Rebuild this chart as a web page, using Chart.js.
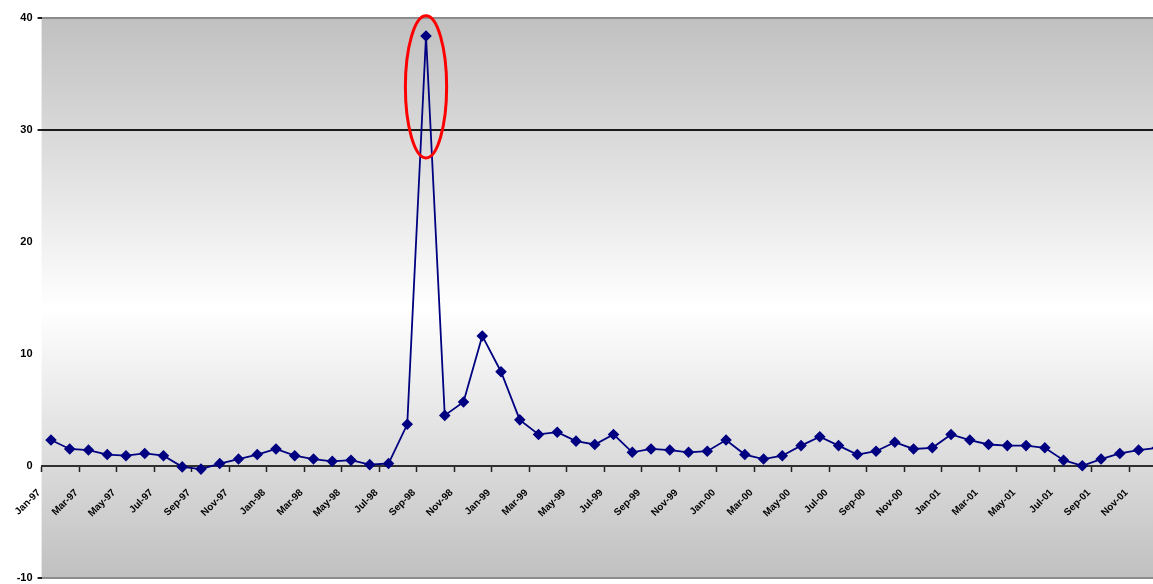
<!DOCTYPE html>
<html>
<head>
<meta charset="utf-8">
<script src="https://cdn.jsdelivr.net/npm/chart.js@4/dist/chart.umd.min.js"></script>
<style>
  html, body { margin: 0; padding: 0; background: #ffffff; overflow: hidden; }
  #wrap { width: 1173px; height: 584px; position: relative; }
</style>
</head>
<body>
<div id="wrap"><canvas id="chart"></canvas></div>
<script>
// Monthly categories, Jan 1997 - Dec 2001
const months = [
  'Jan-97','Feb-97','Mar-97','Apr-97','May-97','Jun-97','Jul-97','Aug-97','Sep-97','Oct-97','Nov-97','Dec-97',
  'Jan-98','Feb-98','Mar-98','Apr-98','May-98','Jun-98','Jul-98','Aug-98','Sep-98','Oct-98','Nov-98','Dec-98',
  'Jan-99','Feb-99','Mar-99','Apr-99','May-99','Jun-99','Jul-99','Aug-99','Sep-99','Oct-99','Nov-99','Dec-99',
  'Jan-00','Feb-00','Mar-00','Apr-00','May-00','Jun-00','Jul-00','Aug-00','Sep-00','Oct-00','Nov-00','Dec-00',
  'Jan-01','Feb-01','Mar-01','Apr-01','May-01','Jun-01','Jul-01','Aug-01','Sep-01','Oct-01','Nov-01','Dec-01'
];

// Monthly change, %
const values = [
  2.3, 1.5, 1.4, 1.0, 0.9, 1.1, 0.9, -0.1, -0.3, 0.2, 0.6, 1.0,
  1.5, 0.9, 0.6, 0.4, 0.5, 0.1, 0.2, 3.7, 38.4, 4.5, 5.7, 11.6,
  8.4, 4.1, 2.8, 3.0, 2.2, 1.9, 2.8, 1.2, 1.5, 1.4, 1.2, 1.3,
  2.3, 1.0, 0.6, 0.9, 1.8, 2.6, 1.8, 1.0, 1.3, 2.1, 1.5, 1.6,
  2.8, 2.3, 1.9, 1.8, 1.8, 1.6, 0.5, 0.0, 0.6, 1.1, 1.4, 1.6
];

const yTicks = [-10, 0, 10, 20, 30, 40];

// Index of the highlighted month
const peakIndex = values.indexOf(Math.max(...values));

// Gray-white-gray fill behind the plot area
const plotBackground = {
  id: 'plotBackground',
  beforeDraw(chart) {
    const { ctx, chartArea: a } = chart;
    const g = ctx.createLinearGradient(0, a.top, 0, a.bottom);
    g.addColorStop(0, '#c0c0c0');
    g.addColorStop(0.52, '#ffffff');
    g.addColorStop(1, '#c0c0c0');
    ctx.save();
    ctx.fillStyle = g;
    ctx.fillRect(a.left, a.top, a.right - a.left, a.bottom - a.top);
    ctx.restore();
  }
};

// Red ellipse drawn round the peak month
const peakEllipse = {
  id: 'peakEllipse',
  afterDatasetsDraw(chart) {
    const { ctx, scales: { x, y } } = chart;
    const cx = x.getPixelForValue(peakIndex);
    const yTop = y.getPixelForValue(40.2);
    const yBot = y.getPixelForValue(27.5);
    const rx = x.width / months.length * 1.1;
    ctx.save();
    ctx.beginPath();
    ctx.ellipse(cx, (yTop + yBot) / 2, rx, (yBot - yTop) / 2, 0, 0, Math.PI * 2);
    ctx.strokeStyle = '#ff0000';
    ctx.lineWidth = 3;
    ctx.stroke();
    ctx.restore();
  }
};

new Chart(document.getElementById('chart'), {
  type: 'line',
  data: {
    labels: months,
    datasets: [{
      data: values,
      borderColor: '#000080',
      backgroundColor: '#000080',
      borderWidth: 1.8,
      pointStyle: 'rectRot',
      pointRadius: 4.5,
      pointHoverRadius: 4.5,
      pointBackgroundColor: '#000080',
      pointBorderColor: '#000080',
      tension: 0,
      fill: false
    }]
  },
  options: {
    responsive: true,
    maintainAspectRatio: false,
    animation: false,
    layout: { padding: { top: 18, bottom: 6, right: 2, left: 0 } },
    plugins: { legend: { display: false }, tooltip: { enabled: false } },
    scales: {
      x: {
        type: 'category',
        position: { y: 0 },
        offset: true,
        // the axis sits at zero inside the plot, so it takes no layout room
        afterFit: s => {
          s.height = 0;
          s.paddingLeft = 0; s.paddingRight = 0;
          s.paddingTop = 0; s.paddingBottom = 0;
        },
        border: { display: true, color: '#303030', width: 2 },
        grid: {
          offset: true,
          drawOnChartArea: false,
          drawTicks: true,
          tickLength: 5,
          tickWidth: 1.5,
          tickColor: c => (c.index % 2 === 0 ? '#202020' : 'rgba(0,0,0,0)')
        },
        ticks: {
          autoSkip: false,
          maxRotation: 45,
          minRotation: 45,
          padding: 16,
          labelOffset: -12,
          color: '#000000',
          font: { family: 'Liberation Sans, Arial, sans-serif', size: 10, weight: 'bold' },
          callback: (v, i) => (i % 2 === 0 ? months[i] : '')
        }
      },
      y: {
        min: -10,
        max: 40,
        afterBuildTicks: s => { s.ticks = yTicks.map(v => ({ value: v })); },
        afterFit: s => { s.width = 41.6; s.paddingTop = 0; s.paddingBottom = 0; },
        border: { display: false },
        grid: {
          drawTicks: true,
          tickLength: 4,
          tickColor: '#202020',
          color: c => {
            const v = c.tick && c.tick.value;
            if (v === 30) return '#1a1a1a';
            if (v === 40 || v === -10) return '#8c8c8c';
            return 'rgba(0,0,0,0)';
          },
          lineWidth: c => {
            const v = c.tick && c.tick.value;
            return (v === 30 || v === 40 || v === -10) ? 2 : 0;
          }
        },
        ticks: {
          padding: 5,
          color: '#000000',
          font: { family: 'Liberation Sans, Arial, sans-serif', size: 11, weight: 'bold' }
        }
      }
    }
  },
  plugins: [plotBackground, peakEllipse]
});
</script>
</body>
</html>
